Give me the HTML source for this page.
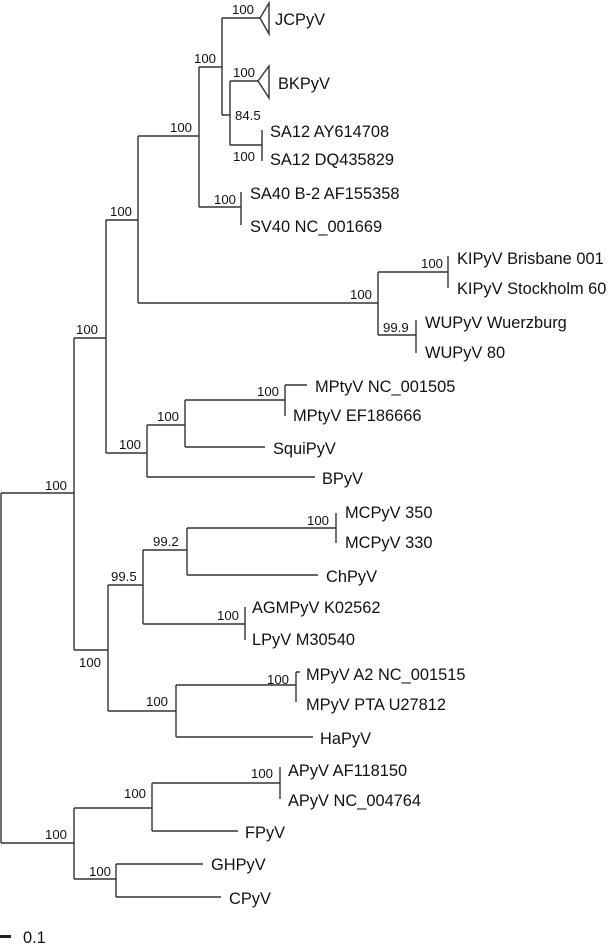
<!DOCTYPE html>
<html><head><meta charset="utf-8"><style>
html,body{margin:0;padding:0;background:#fff;}
svg{display:block;}
text{font-family:"Liberation Sans",Arial,sans-serif;fill:#111;}
.l{font-size:16.4px;}
.s{font-size:13.2px;}
</style></head><body>
<svg width="610" height="947" viewBox="0 0 610 947" xmlns="http://www.w3.org/2000/svg">
<g stroke="#333" stroke-width="1.4" fill="none">
<path d="M222 18H260M222 18V115M222 115H230M230 81V145M230 81H258M230 145H262M262 130V161"/>
<path d="M260 18L269 3V34Z M258 81L269 66V98Z" fill="#fff"/>
<path d="M199 67H222M199 67V207M199 207H241M241 192V225"/>
<path d="M138 136H199M138 136V303M138 303H378M106 220H138"/>
<path d="M378 272V335M378 272H448M448 256V288M378 335H416M416 320V353"/>
<path d="M106 220V453M106 453H147M74 338H106"/>
<path d="M147 425V477M147 425H185M185 400V447M185 400H285M285 385V416M285 385H307M185 447H265M147 477H315"/>
<path d="M1 493H74M74 338V650M1 493V843"/>
<path d="M74 650H108M108 585V711M108 585H143M143 550V624M143 550H187M187 528V575M187 528H336M336 513V543M187 575H318M143 624H245M245 607V640"/>
<path d="M108 711H176M176 685V737M176 685H296M296 672V702M296 672H300M176 737H313"/>
<path d="M1 843H74M74 808V879M74 808H152M152 783V831M152 783H280M280 767V799M152 831H238M74 879H116M116 864V897M116 864H203M116 897H221"/>
</g>
<rect x="0" y="935" width="11" height="3" fill="#222"/>
<g class="l">
<text x="275" y="25">JCPyV</text>
<text x="278" y="89">BKPyV</text>
<text x="270" y="137">SA12 AY614708</text>
<text x="270" y="165">SA12 DQ435829</text>
<text x="250" y="199">SA40 B-2 AF155358</text>
<text x="250" y="232">SV40 NC_001669</text>
<text x="457" y="264">KIPyV Brisbane 001</text>
<text x="457" y="294">KIPyV Stockholm 60</text>
<text x="425" y="328">WUPyV Wuerzburg</text>
<text x="425" y="358">WUPyV 80</text>
<text x="315" y="392">MPtyV NC_001505</text>
<text x="293" y="421">MPtyV EF186666</text>
<text x="273" y="454">SquiPyV</text>
<text x="322" y="484">BPyV</text>
<text x="345" y="518">MCPyV 350</text>
<text x="345" y="548">MCPyV 330</text>
<text x="326" y="582">ChPyV</text>
<text x="252" y="613">AGMPyV K02562</text>
<text x="252" y="645">LPyV M30540</text>
<text x="306" y="680">MPyV A2 NC_001515</text>
<text x="306" y="710">MPyV PTA U27812</text>
<text x="320" y="744">HaPyV</text>
<text x="288" y="776">APyV AF118150</text>
<text x="288" y="806">APyV NC_004764</text>
<text x="245" y="838">FPyV</text>
<text x="211" y="870">GHPyV</text>
<text x="229" y="904">CPyV</text>
<text x="23" y="943">0.1</text>
</g>
<g class="s">
<text x="232" y="14">100</text>
<text x="194" y="63">100</text>
<text x="233" y="77">100</text>
<text x="235" y="120">84.5</text>
<text x="233" y="161">100</text>
<text x="214" y="204">100</text>
<text x="170" y="132">100</text>
<text x="110" y="216">100</text>
<text x="421" y="268">100</text>
<text x="350" y="299">100</text>
<text x="383" y="332">99.9</text>
<text x="76" y="334">100</text>
<text x="257" y="396">100</text>
<text x="157" y="421">100</text>
<text x="119" y="449">100</text>
<text x="45" y="490">100</text>
<text x="307" y="525">100</text>
<text x="153" y="546">99.2</text>
<text x="111" y="581">99.5</text>
<text x="217" y="620">100</text>
<text x="79" y="667">100</text>
<text x="267" y="684">100</text>
<text x="146" y="706">100</text>
<text x="251" y="778">100</text>
<text x="124" y="798">100</text>
<text x="45" y="839">100</text>
<text x="89" y="876">100</text>
</g>
</svg>
</body></html>
